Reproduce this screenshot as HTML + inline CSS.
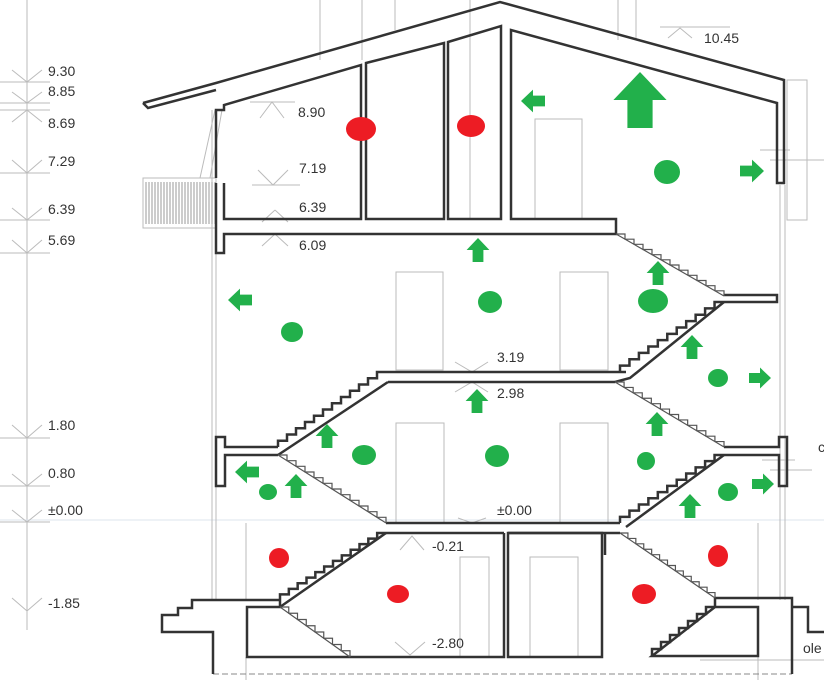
<!DOCTYPE html>
<html><head><meta charset="utf-8"><style>
html,body{margin:0;padding:0;background:#fff;}
svg{display:block;}
text{font-family:"Liberation Sans",sans-serif;font-size:14px;fill:#333;}
</style></head><body>
<svg id="s" width="824" height="685" viewBox="0 0 824 685" xmlns="http://www.w3.org/2000/svg">
<g stroke="#bbb" stroke-width="1" fill="none">
<line x1="320" y1="0" x2="320" y2="60"/><line x1="362" y1="0" x2="362" y2="60"/><line x1="395" y1="0" x2="395" y2="30"/>
<line x1="470" y1="0" x2="470" y2="220"/><line x1="618" y1="0" x2="618" y2="40"/><line x1="636" y1="0" x2="636" y2="40"/>
<line x1="27" y1="0" x2="27" y2="630"/>
<line x1="0" y1="82" x2="50" y2="82"/><line x1="0" y1="103" x2="50" y2="103"/><line x1="0" y1="110" x2="50" y2="110"/>
<line x1="0" y1="173" x2="50" y2="173"/><line x1="0" y1="220" x2="50" y2="220"/><line x1="0" y1="253" x2="50" y2="253"/>
<line x1="0" y1="438" x2="50" y2="438"/><line x1="0" y1="486" x2="50" y2="486"/><line x1="0" y1="522" x2="50" y2="522"/>
<line x1="0" y1="520" x2="824" y2="520" stroke="#dde4ee"/>
<path d="M12,70 L27,82 L42,70 M12,92 L27,103 L42,92 M12,122 L27,110 L42,122 M12,160 L27,173 L42,160 M12,208 L27,220 L42,208 M12,240 L27,253 L42,240 M12,425 L27,438 L42,425 M12,474 L27,486 L42,474 M12,510 L27,522 L42,510 M12,598 L27,611 L42,598"/>
<path d="M250,102 L295,102 M260,118 L272,102 L284,118 M252,185 L300,185 M258,170 L273,185 L288,170 M262,222 L275,210 M275,210 L288,222 M262,246 L275,234 L288,246 M455,362 L472,372 L488,362 M455,392 L472,382 L488,392 M458,518 L472,523 L486,518 M400,550 L412,536 L424,550 M395,642 L410,655 L425,642 M668,38 L680,28 L692,38 M660,27 L730,27"/>
<rect x="535" y="119" width="47" height="100"/><rect x="396" y="272" width="47" height="98"/><rect x="560" y="272" width="48" height="98"/>
<rect x="396" y="423" width="48" height="100"/><rect x="560" y="423" width="48" height="100"/><rect x="460" y="557" width="29" height="100"/><rect x="530" y="557" width="48" height="100"/>
<line x1="212" y1="110" x2="212" y2="600"/><line x1="216" y1="250" x2="216" y2="600"/><line x1="780" y1="185" x2="780" y2="600"/><line x1="785" y1="185" x2="785" y2="600"/>
<rect x="787" y="80" width="20" height="140"/>
<line x1="246" y1="523" x2="246" y2="600"/><line x1="758" y1="523" x2="758" y2="600"/>
<rect x="143" y="178" width="73" height="50"/>
<path d="M215,110 L200,178 M222,110 L210,178 M760,150 L790,150 M770,160 L824,160 M762,460 L795,460 M770,470 L812,470 M700,660 L824,660 M246,657 L246,680 M758,657 L758,680"/>
</g>
<g stroke="#999" stroke-width="1"><path id="rail"/></g>
<path d="M213,674 L792,674" stroke="#888" stroke-dasharray="6,3" fill="none"/>
<g stroke="#333" stroke-width="2.5" fill="none" stroke-linejoin="miter">
<path d="M143,103 L216,83 L500,2 L784,80 L784,183 L777,183 L777,103 L511,30 L511,219 L616,219 L616,234 L224,234 L224,253 L216,253 L216,183 M216,178 L216,110 L224,110 L224,105 L361,65 L361,219 L224,219 L224,183"/>
<path d="M143,103 L148,108 L216,90"/>
<path d="M366,63 L444,43 L444,219 L366,219 Z"/>
<path d="M448,42 L501,26 L501,219 L448,219 Z"/>
<!-- landings & slabs -->
<path d="M724,295 L777,295 L777,302 L724,302"/>
<path d="M386,372 L626,372 M388,382 L615,382"/>
<path d="M278,447 L225,447 L225,437 L216,437 L216,486 L225,486 L225,455 L278,455"/>
<path d="M724,447 L779,447 L779,437 L787,437 L787,486 L779,486 L779,455 L724,455"/>
<path d="M386,523 L620,523 M386,533 L504,533 M508,533 L620,533"/>
<path d="M388,382 L278,455"/>
<path d="M724,302 L630,378 L615,382"/>
<path d="M724,455 L626,527"/>
<path d="M386,533 L280,607"/>
<path d="M280,600 L192,600 L192,608 L178,608 L178,615 L162,615 L162,632 L213,632 L213,674"/>
<path d="M280,600 L280,607 L247,607 L247,657 L504,657 L504,533"/>
<path d="M508,533 L602,533 L602,657 L508,657 Z M605,533 L605,555 M715,598 L792,598 L792,607 L808,607 L808,632 L824,632 M792,607 L792,674"/>
<path d="M715,607 L758,607 L758,656 L652,656 Z"/>
<path d="M715,598 L715,607"/>
</g>
<g id="stairs" fill="none"></g>
<g font-size="14">
<text x="48" y="76">9.30</text><text x="48" y="96">8.85</text><text x="48" y="128">8.69</text><text x="48" y="166">7.29</text><text x="48" y="214">6.39</text><text x="48" y="245">5.69</text>
<text x="48" y="430">1.80</text><text x="48" y="478">0.80</text><text x="48" y="515">±0.00</text><text x="48" y="608">-1.85</text>
<text x="298" y="117">8.90</text><text x="299" y="173">7.19</text><text x="299" y="212">6.39</text><text x="299" y="250">6.09</text>
<text x="497" y="362">3.19</text><text x="497" y="398">2.98</text><text x="497" y="515">±0.00</text><text x="432" y="551">-0.21</text><text x="432" y="648">-2.80</text>
<text x="704" y="43">10.45</text><text x="803" y="653">ole</text><text x="818" y="452">c</text>
</g>
<g fill="#ed1c24">
<ellipse cx="361" cy="129" rx="15" ry="12"/><ellipse cx="471" cy="126" rx="14" ry="11"/><ellipse cx="279" cy="558" rx="10" ry="10"/><ellipse cx="398" cy="594" rx="11" ry="9"/><ellipse cx="718" cy="556" rx="10" ry="11"/><ellipse cx="644" cy="594" rx="12" ry="10"/>
</g>
<g fill="#22b04b">
<ellipse cx="667" cy="172" rx="13" ry="12"/><ellipse cx="490" cy="302" rx="12" ry="11"/><ellipse cx="292" cy="332" rx="11" ry="10"/><ellipse cx="653" cy="301" rx="15" ry="12"/><ellipse cx="718" cy="378" rx="10" ry="9"/>
<ellipse cx="364" cy="455" rx="12" ry="10"/><ellipse cx="497" cy="456" rx="12" ry="11"/><ellipse cx="646" cy="461" rx="9" ry="9"/><ellipse cx="268" cy="492" rx="9" ry="8"/><ellipse cx="728" cy="492" rx="10" ry="9"/>
</g>
<g id="arrows" fill="#22b04b"></g>
</svg>
<script>
var NS="http://www.w3.org/2000/svg";
function arr(x,y,s,r){var p=document.createElementNS(NS,"polygon");p.setAttribute("points","0,-1 0.95,0 0.45,0 0.45,1 -0.45,1 -0.45,0 -0.95,0");p.setAttribute("transform","translate("+x+","+y+") rotate("+r+") scale("+s+")");document.getElementById("arrows").appendChild(p);}
arr(640,100,28,0);
arr(533,101,12,-90);arr(240,300,12,-90);arr(247,472,12,-90);
arr(752,171,12,90);arr(760,378,11,90);arr(763,484,11,90);
[[478,250],[658,273],[692,347],[477,401],[327,436],[296,486],[657,424],[690,506]].forEach(function(a){arr(a[0],a[1],12,0);});
var g=document.getElementById("stairs");
function st(x1,y1,x2,y2,n,w,col,diag){var d="M"+x1+","+y1;var dx=(x2-x1)/n,dy=(y2-y1)/n;for(var i=0;i<n;i++){var x=x1+dx*i,y=y1+dy*i;d+=" L"+(x+dx)+","+y+" L"+(x+dx)+","+(y+dy);}
if(diag)d+=" M"+x1+","+y1+" L"+x2+","+y2;
var p=document.createElementNS(NS,"path");p.setAttribute("d",d);p.setAttribute("stroke",col);p.setAttribute("stroke-width",w);g.appendChild(p);}
// thin flights
st(616,234,724,296,12,1.2,"#555",true);
st(278,455,386,523,12,1.2,"#555",true);
st(615,382,724,447,12,1.2,"#555",true);
st(620,533,715,598,12,1.2,"#555",true);
st(280,607,350,657,8,1.2,"#555",true);
// thick flights (zigzag upper side)
st(724,302,620,372,11,2.5,"#333",false);
st(386,372,278,447,12,2.5,"#333",false);
st(724,455,620,523,11,2.5,"#333",false);
st(386,533,280,600,12,2.5,"#333",false);
st(715,607,652,656,7,2.5,"#333",false);
var r=document.getElementById("rail"),d="";for(var x=146;x<216;x+=3){d+="M"+x+",182 L"+x+",224 ";}r.setAttribute("d",d);
</script>
</body></html>
